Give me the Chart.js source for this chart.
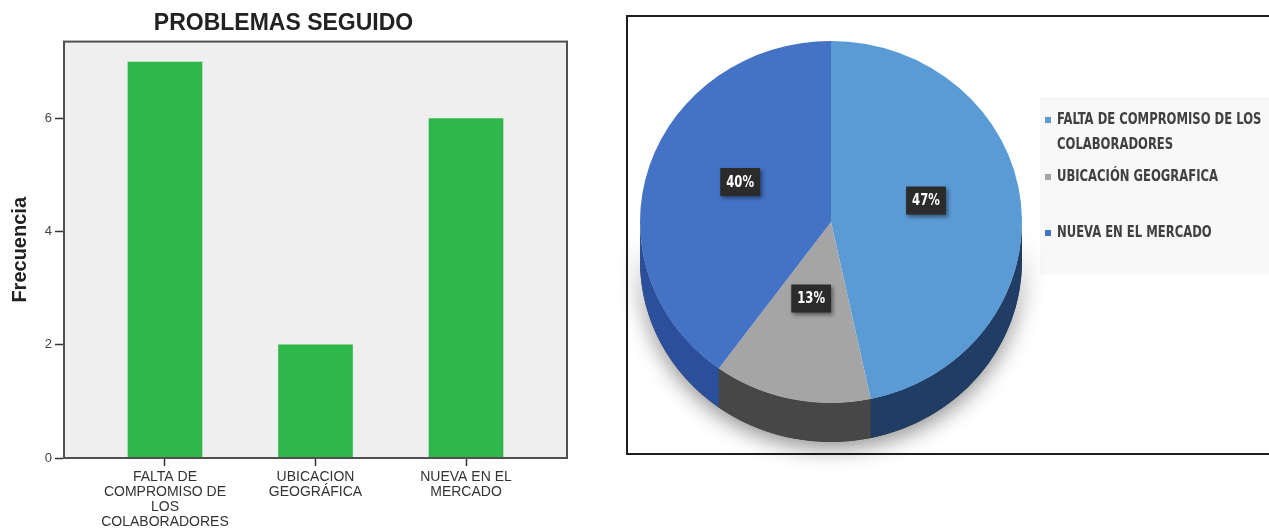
<!DOCTYPE html>
<html lang="es">
<head>
<meta charset="utf-8">
<title>Problemas seguido</title>
<script src="https://cdn.jsdelivr.net/npm/chart.js@4.4.1/dist/chart.umd.min.js"></script>
<style>
  html, body { margin: 0; padding: 0; background: #ffffff; }
  #wrap { position: relative; width: 1269px; height: 528px; overflow: hidden; }
  #barCanvas { position: absolute; left: 0; top: 0; }
  #pieCanvas { position: absolute; left: 620px; top: 0; }
</style>
</head>
<body>
<div id="wrap">
  <canvas id="barCanvas" width="600" height="528"></canvas>
  <canvas id="pieCanvas" width="649" height="528"></canvas>
</div>
<script>
// ---- data ----
const categories = [
  'FALTA DE COMPROMISO DE LOS COLABORADORES',
  'UBICACIÓN GEOGRAFICA',
  'NUEVA EN EL MERCADO'
];
const barTickLabels = [
  ['FALTA DE', 'COMPROMISO DE', 'LOS', 'COLABORADORES'],
  ['UBICACION', 'GEOGRÁFICA'],
  ['NUEVA EN EL', 'MERCADO']
];
const frequencies = [7, 2, 6];
const yTickValues = [0, 2, 4, 6];

// ---- styling ----
const SANS = "'Liberation Sans', Arial, Helvetica, sans-serif";
const NARROW = "'Liberation Sans Narrow', 'DejaVu Sans Condensed', 'Liberation Sans', sans-serif";
const BAR_GREEN = '#2eb84b';
const sliceColors = ['#5b9bd5', '#a5a5a5', '#4472c4'];
const sliceSideColors = ['#203d66', '#474747', '#2c4f9c'];

// ================= bar chart =================
const plotFrame = {
  id: 'plotFrame',
  beforeDraw(chart) {
    const { ctx, chartArea: a } = chart;
    ctx.save();
    ctx.fillStyle = '#efefef';
    ctx.fillRect(a.left, a.top, a.right - a.left, a.bottom - a.top);
    ctx.restore();
  },
  afterDraw(chart) {
    const { ctx, chartArea: a } = chart;
    ctx.save();
    ctx.strokeStyle = '#505050';
    ctx.lineWidth = 2;
    ctx.strokeRect(a.left, a.top, a.right - a.left, a.bottom - a.top);
    ctx.restore();
  }
};

new Chart(document.getElementById('barCanvas'), {
  type: 'bar',
  data: {
    datasets: [{
      data: frequencies.map((v, i) => ({ x: i, y: v })),
      backgroundColor: BAR_GREEN,
      borderWidth: 0,
      barThickness: 74
    }]
  },
  options: {
    responsive: false,
    animation: false,
    events: [],
    layout: { padding: { left: 0, right: 33, top: 0, bottom: 0 } },
    plugins: {
      legend: { display: false },
      tooltip: { enabled: false },
      title: {
        display: true,
        text: 'PROBLEMAS SEGUIDO',
        color: '#222222',
        font: { family: SANS, size: 23, weight: 'bold', lineHeight: 1.2 },
        padding: { top: 10, bottom: 4 }
      }
    },
    scales: {
      x: {
        type: 'linear',
        offset: false,
        min: -0.671,
        max: 2.671,
        afterBuildTicks: s => { s.ticks = barTickLabels.map((_, i) => ({ value: i })); },
        afterFit: s => { s.height = 70; },
        grid: { offset: false, drawOnChartArea: false, drawTicks: true, tickLength: 8, tickColor: '#333333', tickWidth: 1.5 },
        border: { display: true, color: '#505050', width: 2 },
        ticks: {
          color: '#333333',
          font: { family: SANS, size: 14, lineHeight: '15px' },
          padding: 4,
          maxRotation: 0,
          autoSkip: false,
          callback: v => barTickLabels[v]
        }
      },
      y: {
        min: 0,
        max: 7.36,
        afterBuildTicks: s => { s.ticks = yTickValues.map(v => ({ value: v })); },
        afterFit: s => { s.width = 64; },
        grid: { drawOnChartArea: false, drawTicks: true, tickLength: 9, tickColor: '#333333', tickWidth: 1.5 },
        border: { display: true, color: '#505050', width: 2 },
        ticks: { color: '#444444', font: { family: SANS, size: 13 }, padding: 3 },
        title: {
          display: true,
          text: 'Frecuencia',
          color: '#222222',
          font: { family: SANS, size: 20, weight: 'bold', lineHeight: 1.2 },
          padding: { top: 8, bottom: 0 }
        }
      }
    }
  },
  plugins: [plotFrame]
});

// ================= 3D pie chart =================
const TILT = 181 / 191;     // vertical squash of the top face
const DEPTH = 39;           // thickness of the pie edge, px
const LABEL_LIFT = -12;     // raise value boxes a little toward the back
const TEXT_SQUEEZE = 0.86;  // narrow the legend lettering
const total = frequencies.reduce((s, v) => s + v, 0);

function edgeBand(ctx, cx, cy, r, d, a, b) {
  ctx.beginPath();
  ctx.arc(cx, cy, r, a, b, false);
  ctx.arc(cx, cy + d, r, b, a, true);
  ctx.closePath();
}

// visible part of an angle range on the front edge (0..π)
function frontRange(a, b) {
  for (let k = -1; k <= 1; k++) {
    const lo = Math.max(a, 0 + k * 2 * Math.PI);
    const hi = Math.min(b, Math.PI + k * 2 * Math.PI);
    if (hi > lo) return [lo, hi];
  }
  return null;
}

const pieFrame = {
  id: 'pieFrame',
  beforeDraw(chart) {
    const ctx = chart.ctx;
    ctx.save();
    ctx.fillStyle = '#f8f8f8';
    ctx.fillRect(420, 97, 229, 178);
    ctx.strokeStyle = '#1e1e1e';
    ctx.lineWidth = 2;
    ctx.beginPath();
    ctx.moveTo(649, 16); ctx.lineTo(7, 16); ctx.lineTo(7, 454); ctx.lineTo(649, 454);
    ctx.stroke();
    ctx.restore();
  }
};

const pie3d = {
  id: 'pie3d',
  beforeDatasetsDraw(chart) {
    const ctx = chart.ctx;
    const arcs = chart.getDatasetMeta(0).data;
    const { x: cx, y: cy, outerRadius: r } = arcs[0];
    const d = DEPTH / TILT;
    ctx.save();
    ctx.translate(cx, cy);
    ctx.scale(1, TILT);
    ctx.translate(-cx, -cy);
    // soft shadow under the front edge
    ctx.save();
    ctx.shadowColor = 'rgba(0,0,0,0.45)';
    ctx.shadowBlur = 22;
    ctx.shadowOffsetY = 6;
    edgeBand(ctx, cx, cy, r, d, 0, Math.PI);
    ctx.fillStyle = '#3a3a3a';
    ctx.fill();
    ctx.restore();
    arcs.forEach((arc, i) => {
      const rng = frontRange(arc.startAngle, arc.endAngle);
      if (!rng) return;
      edgeBand(ctx, cx, cy, r, d, rng[0], rng[1]);
      ctx.fillStyle = sliceSideColors[i];
      ctx.fill();
    });
  },
  afterDatasetsDraw(chart) {
    chart.ctx.restore();
  },
  afterDraw(chart) {
    const ctx = chart.ctx;
    const arcs = chart.getDatasetMeta(0).data;
    const cy = arcs[0].y;
    ctx.save();
    // value boxes
    ctx.font = 'bold 15px ' + NARROW;
    ctx.textAlign = 'center';
    ctx.textBaseline = 'middle';
    arcs.forEach((arc, i) => {
      const p = arc.tooltipPosition();
      const x = p.x;
      const y = cy + (p.y - cy) * TILT + LABEL_LIFT;
      const txt = Math.round(frequencies[i] / total * 100) + '%';
      const w = ctx.measureText(txt).width * TEXT_SQUEEZE + 12;
      const h = 28;
      ctx.save();
      ctx.shadowColor = 'rgba(0,0,0,0.45)';
      ctx.shadowBlur = 4;
      ctx.shadowOffsetX = 2;
      ctx.shadowOffsetY = 2;
      ctx.fillStyle = '#2b2b2b';
      ctx.fillRect(x - w / 2, y - h / 2, w, h);
      ctx.restore();
      ctx.save();
      ctx.translate(x, y + 1);
      ctx.scale(TEXT_SQUEEZE, 1);
      ctx.fillStyle = '#ffffff';
      ctx.fillText(txt, 0, 0);
      ctx.restore();
    });
    // legend
    const rows = [120, 177, 233];
    const maxW = 212;
    ctx.textAlign = 'left';
    ctx.font = 'bold 15px ' + NARROW;
    categories.forEach((label, i) => {
      const y0 = rows[i];
      ctx.fillStyle = sliceColors[i];
      ctx.fillRect(425, y0 - 3, 6, 6);
      // wrap long labels to the legend width
      const words = label.split(' ');
      const lines = [];
      let cur = '';
      words.forEach(wd => {
        const t = cur ? cur + ' ' + wd : wd;
        if (ctx.measureText(t).width * TEXT_SQUEEZE > maxW && cur) { lines.push(cur); cur = wd; }
        else cur = t;
      });
      lines.push(cur);
      ctx.fillStyle = '#404040';
      lines.forEach((ln, j) => {
        ctx.save();
        ctx.translate(437, y0 + j * 25);
        ctx.scale(TEXT_SQUEEZE, 1);
        ctx.fillText(ln, 0, 0);
        ctx.restore();
      });
    });
    ctx.restore();
  }
};

new Chart(document.getElementById('pieCanvas'), {
  type: 'pie',
  data: {
    labels: categories,
    datasets: [{
      data: frequencies,
      backgroundColor: sliceColors,
      borderWidth: 0
    }]
  },
  options: {
    responsive: false,
    animation: false,
    events: [],
    layout: { padding: { left: 20, right: 247, top: 31, bottom: 115 } },
    plugins: {
      legend: { display: false },
      tooltip: { enabled: false },
      title: { display: false }
    }
  },
  plugins: [pieFrame, pie3d]
});
</script>
</body>
</html>
